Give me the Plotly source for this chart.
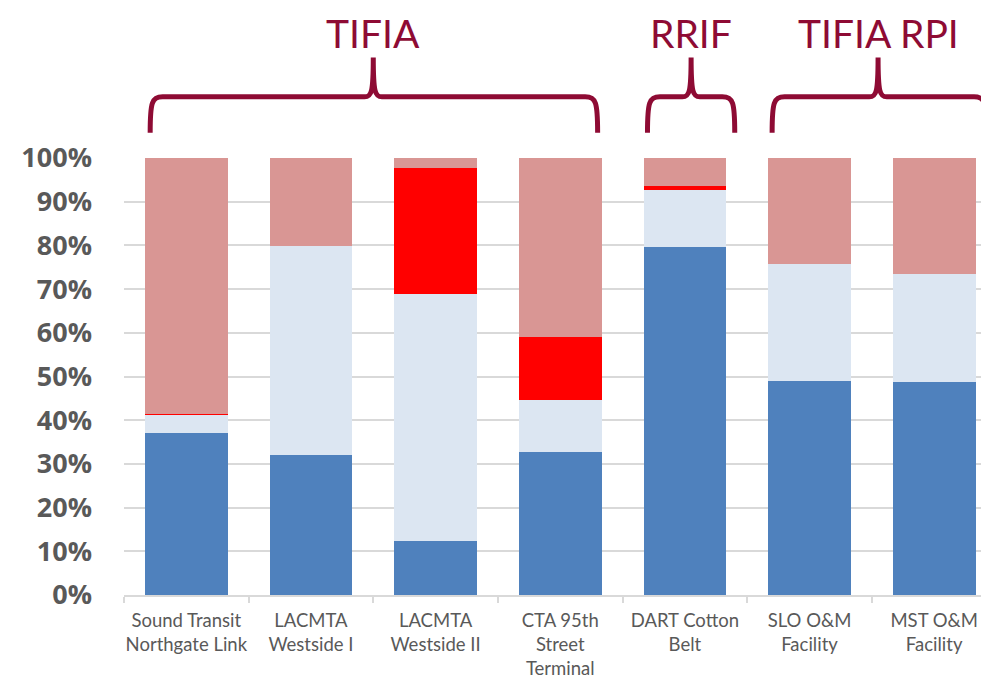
import plotly.graph_objects as go

categories = ["Sound Transit<br>Northgate Link", "LACMTA<br>Westside I", "LACMTA<br>Westside II",
              "CTA 95th<br>Street<br>Terminal", "DART Cotton<br>Belt", "SLO O&M<br>Facility", "MST O&M<br>Facility"]
blue_vals = [37.1, 32.1, 12.4, 32.7, 79.7, 49.0, 48.8]
light_vals = [4.1, 47.8, 56.5, 12.0, 12.9, 26.8, 24.7]
red_vals = [0.3, 0.0, 28.7, 14.4, 1.1, 0.0, 0.0]
pink_vals = [58.5, 20.1, 2.4, 40.9, 6.3, 24.2, 26.5]

groups = ["TIFIA", "RRIF", "TIFIA RPI"]
group_spans = [(-0.29, 3.30, 1.50), (3.70, 4.40, 4.05), (4.70, 6.42, 5.55)]  # index units

x_range = [-0.5, 6.44]
y_range = [0, 100]
brace_color = "#8E0B34"

fig = go.Figure()
series = [(blue_vals, "#4F81BD"), (light_vals, "#DCE6F2"), (red_vals, "#FF0000"), (pink_vals, "#D99694")]
for vals, col in series:
    fig.add_trace(go.Bar(x=categories, y=vals, marker=dict(color=col, line=dict(width=0)),
                         showlegend=False, hoverinfo="skip"))


def px(xi):
    return (xi - x_range[0]) / (x_range[1] - x_range[0])


def py(yv):
    return (yv - y_range[0]) / (y_range[1] - y_range[0])


yb, yh, yp, ytxt = 105.8, 114.0, 123.0, 128.5
r = 0.10
rc = 0.07
shapes = []
annotations = []
for name, (x0, x1, xc) in zip(groups, group_spans):
    pts = (f"M {px(x0)},{py(yb)} "
           f"C {px(x0)},{py(yh)-0.012} {px(x0)+0.002},{py(yh)} {px(x0+r)},{py(yh)} "
           f"L {px(xc-rc)},{py(yh)} "
           f"C {px(xc-rc*0.2)},{py(yh)} {px(xc)},{py(yh)+0.01} {px(xc)},{py(yp)} "
           f"C {px(xc)},{py(yh)+0.01} {px(xc+rc*0.2)},{py(yh)} {px(xc+rc)},{py(yh)} "
           f"L {px(x1-r)},{py(yh)} "
           f"C {px(x1)-0.002},{py(yh)} {px(x1)},{py(yh)-0.012} {px(x1)},{py(yb)}")
    shapes.append(dict(type="path", xref="paper", yref="paper", path=pts,
                       line=dict(color=brace_color, width=5), layer="above"))
    annotations.append(dict(text=name, xref="paper", yref="paper", x=px(xc), y=py(ytxt),
                            xanchor="center", yanchor="middle", showarrow=False,
                            font=dict(family="Lato", size=39, color=brace_color)))

fig.update_layout(
    width=981, height=672,
    margin=dict(l=116, r=0, t=150, b=85),
    barmode="stack", bargap=0.336,
    plot_bgcolor="white", paper_bgcolor="white",
    shapes=shapes, annotations=annotations,
    xaxis=dict(type="category", range=x_range, tickson="boundaries", ticks="outside",
               ticklen=6, tickwidth=2, tickcolor="#D9D9D9", showline=True, linecolor="#D9D9D9",
               linewidth=2, showgrid=False, ticklabelstandoff=8, tickangle=0, automargin=False,
               tickfont=dict(family="Lato", size=18.5, color="#595959")),
    yaxis=dict(range=y_range, dtick=10, ticksuffix="%", showgrid=True, gridcolor="#D9D9D9",
               gridwidth=2, zeroline=False, showline=False, ticks="", ticklabelstandoff=31,
               automargin=False,
               tickfont=dict(family="Open Sans", size=27, color="#595959", weight="bold")),
)

fig.write_html("out.html")
